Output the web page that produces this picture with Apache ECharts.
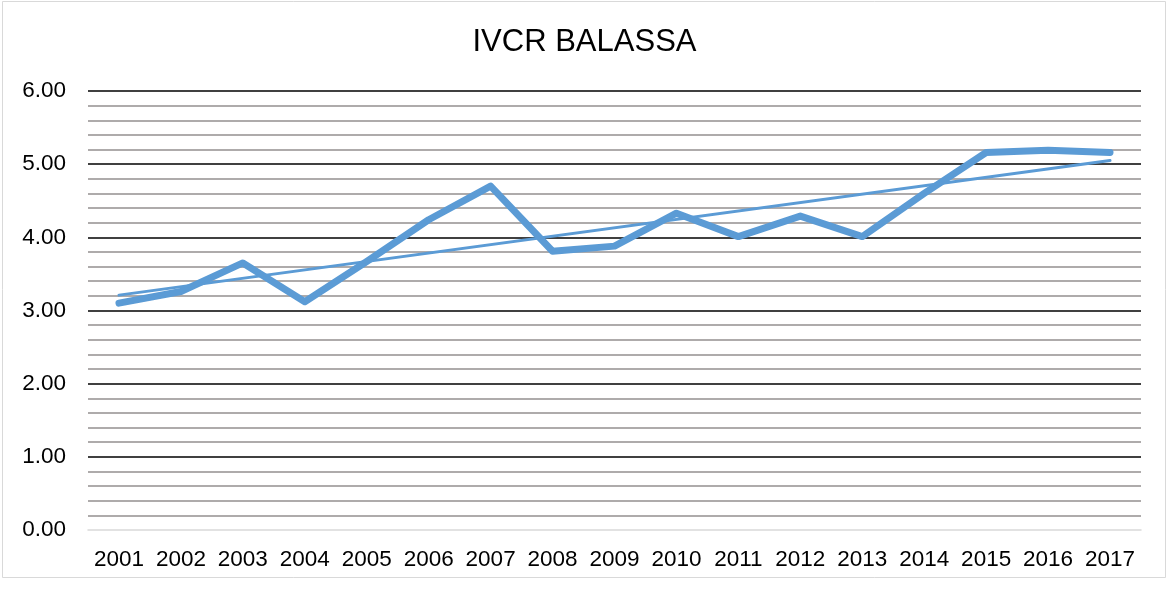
<!DOCTYPE html>
<html>
<head>
<meta charset="utf-8">
<script src="https://cdn.jsdelivr.net/npm/echarts@6/dist/echarts.min.js"></script>
<style>
  html, body { margin: 0; padding: 0; background: #fff; }
  #chart { width: 1169px; height: 589px; }
</style>
</head>
<body>
<div id="chart"></div>
<script>
const titleText = 'IVCR BALASSA';
const years = ['2001','2002','2003','2004','2005','2006','2007','2008','2009','2010','2011','2012','2013','2014','2015','2016','2017'];
const ivcr = [3.10, 3.26, 3.65, 3.12, 3.67, 4.24, 4.70, 3.81, 3.88, 4.33, 4.01, 4.29, 4.01, 4.60, 5.16, 5.19, 5.16];
// Linear trendline endpoints
const trendStart = 3.21;
const trendEnd = 5.05;
const trend = years.map((y, i) => i === 0 ? trendStart : (i === years.length - 1 ? trendEnd : null));

const FONT = '"Liberation Sans", Arial, sans-serif';
const chart = echarts.init(document.getElementById('chart'), null, { renderer: 'canvas' });
chart.setOption({
  animation: false,
  backgroundColor: '#ffffff',
  graphic: [{
    type: 'rect',
    shape: { x: 2.5, y: 1.5, width: 1163, height: 576 },
    style: { fill: 'none', stroke: '#d9d9d9', lineWidth: 1 },
    silent: true,
    z: -10
  }],
  title: {
    text: titleText,
    left: 'center',
    top: 22,
    textStyle: { fontFamily: FONT, fontSize: 31, fontWeight: 'normal', color: '#000' }
  },
  grid: { left: 88, right: 28, top: 91, bottom: 59, containLabel: false },
  xAxis: {
    type: 'category',
    data: years,
    boundaryGap: true,
    axisLine: { show: true, lineStyle: { color: '#d9d9d9', width: 1.5 } },
    axisTick: { show: false },
    axisLabel: { fontFamily: FONT, fontSize: 22.5, color: '#000', margin: 18, interval: 0 },
    splitLine: { show: false }
  },
  yAxis: {
    type: 'value',
    min: 0,
    max: 6,
    interval: 1,
    axisLine: { show: false },
    axisTick: { show: false },
    axisLabel: { fontFamily: FONT, fontSize: 22.5, color: '#000', margin: 22, formatter: v => v.toFixed(2) },
    splitLine: { show: true, showMinLine: false, lineStyle: { color: '#000', width: 1.5 } },
    minorTick: { show: false, splitNumber: 5 },
    minorSplitLine: { show: true, lineStyle: { color: '#aeabab', width: 1.8 } }
  },
  series: [
    {
      name: 'IVCR',
      type: 'line',
      data: ivcr,
      symbol: 'none',
      lineStyle: { color: '#5b9bd5', width: 7, cap: 'round', join: 'round' },
      z: 3
    },
    {
      name: 'Trend',
      type: 'line',
      data: trend,
      connectNulls: true,
      symbol: 'none',
      lineStyle: { color: '#5b9bd5', width: 3, cap: 'round' },
      z: 4
    }
  ]
});
</script>
</body>
</html>
